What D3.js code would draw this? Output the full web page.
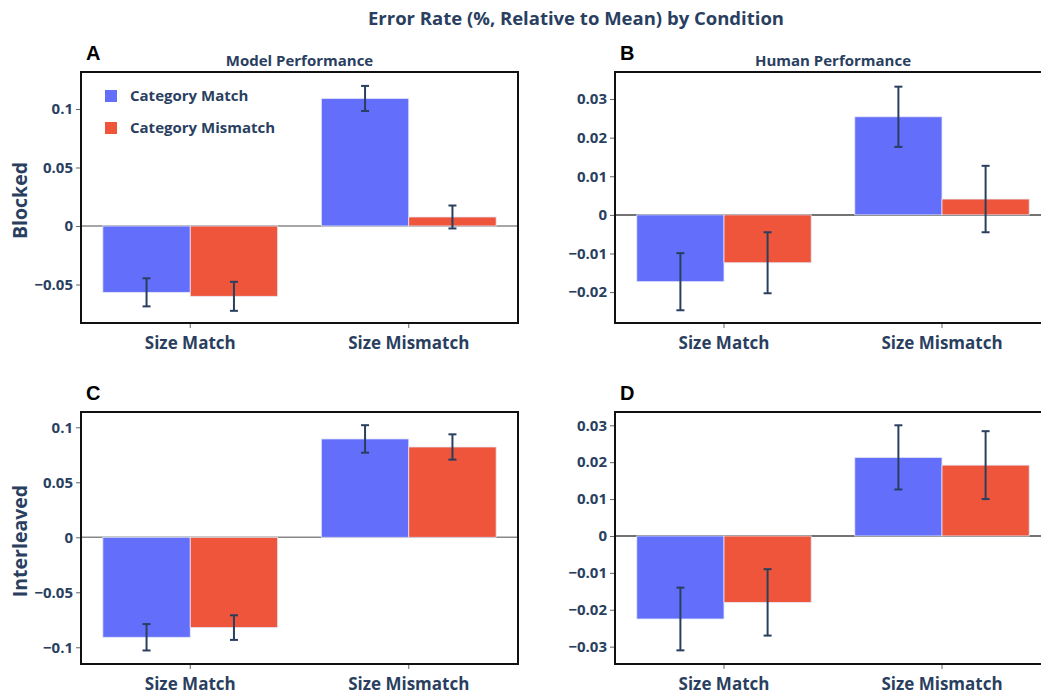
<!DOCTYPE html>
<html><head><meta charset="utf-8">
<script src="https://cdn.jsdelivr.net/npm/d3@7"></script>
<style>
html,body{margin:0;padding:0;background:#fff;overflow:hidden}
text{font-family:"Open Sans",sans-serif;font-weight:700}
</style></head>
<body><svg id="c" width="1041" height="694"></svg>
<script>
const categories = ["Size Match", "Size Mismatch"];
const seriesNames = ["Category Match", "Category Mismatch"];
const seriesColors = ["#636efa", "#ef553b"];

// Panel A: Model, Blocked
const modelBlockedMatch = [-0.0567, 0.109];
const modelBlockedMatchErr = [0.012, 0.0107];
const modelBlockedMismatch = [-0.0601, 0.0077];
const modelBlockedMismatchErr = [0.0124, 0.0098];
// Panel B: Human, Blocked
const humanBlockedMatch = [-0.0173, 0.0254];
const humanBlockedMatchErr = [0.0074, 0.0078];
const humanBlockedMismatch = [-0.0124, 0.0041];
const humanBlockedMismatchErr = [0.0079, 0.0086];
// Panel C: Model, Interleaved
const modelInterMatch = [-0.0909, 0.0894];
const modelInterMatchErr = [0.012, 0.0125];
const modelInterMismatch = [-0.0821, 0.0821];
const modelInterMismatchErr = [0.0112, 0.0115];
// Panel D: Human, Interleaved
const humanInterMatch = [-0.0225, 0.0213];
const humanInterMatchErr = [0.0085, 0.0087];
const humanInterMismatch = [-0.018, 0.0192];
const humanInterMismatchErr = [0.009, 0.0092];

const ticksA = [-0.05, 0, 0.05, 0.1];
const ticksB = [-0.02, -0.01, 0, 0.01, 0.02, 0.03];
const ticksC = [-0.1, -0.05, 0, 0.05, 0.1];
const ticksD = [-0.03, -0.02, -0.01, 0, 0.01, 0.02, 0.03];

const mainTitle = "Error Rate (%, Relative to Mean) by Condition";
const colTitles = ["Model Performance", "Human Performance"];
const rowTitles = ["Blocked", "Interleaved"];

const panels = [
  {letter:"A", x:81, y:72, w:437, h:251, dom:[-0.0829,0.1316], ticks:ticksA, zc:"#888",
   vals:[modelBlockedMatch, modelBlockedMismatch], errs:[modelBlockedMatchErr, modelBlockedMismatchErr],
   colTitle:colTitles[0], rowTitle:rowTitles[0], legend:true},
  {letter:"B", x:615, y:72, w:436, h:251, dom:[-0.028,0.037], ticks:ticksB, zc:"#444",
   vals:[humanBlockedMatch, humanBlockedMismatch], errs:[humanBlockedMatchErr, humanBlockedMismatchErr],
   colTitle:colTitles[1]},
  {letter:"C", x:81, y:412, w:437, h:252, dom:[-0.1152,0.1139], ticks:ticksC, zc:"#888",
   vals:[modelInterMatch, modelInterMismatch], errs:[modelInterMatchErr, modelInterMismatchErr],
   rowTitle:rowTitles[1]},
  {letter:"D", x:615, y:412, w:436, h:252, dom:[-0.0347,0.0336], ticks:ticksD, zc:"#444",
   vals:[humanInterMatch, humanInterMismatch], errs:[humanInterMatchErr, humanInterMismatchErr]}
];

const svg = d3.select("#c");
const txt = "#2a3f5f";
const fmt = v => v === 0 ? "0" : (v < 0 ? "\u2212" : "") + String(Math.abs(v));

svg.append("text").attr("x", 576).attr("y", 25).attr("text-anchor","middle")
  .attr("font-size", 18.5).attr("fill", txt).text(mainTitle);

panels.forEach(p => {
  const g = svg.append("g").attr("transform", `translate(${p.x},${p.y})`);
  const x0 = d3.scaleBand().domain(categories).range([0, p.w]);
  // bargap 0.2: group occupies 80% of each band
  const inner = d3.scaleBand().domain(seriesNames).range([x0.bandwidth()*0.1, x0.bandwidth()*0.9]);
  const y = d3.scaleLinear().domain(p.dom).range([p.h, 0]);

  const ya = d3.axisLeft(y).tickValues(p.ticks).tickFormat(fmt).tickSize(5).tickPadding(3);
  const yg = g.append("g").call(ya);
  yg.select(".domain").remove();
  yg.selectAll(".tick line").attr("stroke", "#666");
  yg.selectAll(".tick text").attr("font-size", 15).attr("fill", txt)
    .style("font-family", "'Open Sans',sans-serif").style("font-weight", 700);

  const xa = d3.axisBottom(x0).tickSize(5).tickPadding(9);
  const xg = g.append("g").attr("transform", `translate(0,${p.h})`).call(xa);
  xg.select(".domain").remove();
  xg.selectAll(".tick line").attr("stroke", "#666");
  xg.selectAll(".tick text").attr("font-size", 17).attr("fill", txt)
    .style("font-family", "'Open Sans',sans-serif").style("font-weight", 700);

  g.append("line").attr("x1", 0).attr("x2", p.w).attr("y1", y(0)).attr("y2", y(0))
    .attr("stroke", p.zc).attr("stroke-width", 1.5);

  seriesNames.forEach((s, si) => {
    categories.forEach((c, ci) => {
      const v = p.vals[si][ci];
      g.append("rect")
        .attr("x", x0(c) + inner(s)).attr("width", inner.bandwidth())
        .attr("y", y(Math.max(0, v))).attr("height", Math.abs(y(v) - y(0)))
        .attr("fill", seriesColors[si]).attr("stroke", "#e5e8f8").attr("stroke-width", 0.8);
    });
  });
  seriesNames.forEach((s, si) => {
    categories.forEach((c, ci) => {
      const v = p.vals[si][ci], e = p.errs[si][ci];
      const cx = x0(c) + inner(s) + inner.bandwidth()/2;
      const eg = g.append("g").attr("stroke", "#2a3f5f").attr("stroke-width", 2);
      eg.append("line").attr("x1", cx).attr("x2", cx).attr("y1", y(v+e)).attr("y2", y(v-e));
      eg.append("line").attr("x1", cx-4).attr("x2", cx+4).attr("y1", y(v+e)).attr("y2", y(v+e));
      eg.append("line").attr("x1", cx-4).attr("x2", cx+4).attr("y1", y(v-e)).attr("y2", y(v-e));
    });
  });

  g.append("rect").attr("x", 0).attr("y", 0).attr("width", p.w).attr("height", p.h)
    .attr("fill", "none").attr("stroke", "#111").attr("stroke-width", 2);

  svg.append("text").attr("x", p.x + 5).attr("y", p.y - 12)
    .style("font-family", "'Liberation Sans',Arial,sans-serif").attr("font-size", 20)
    .attr("fill", "#000").text(p.letter);

  if (p.colTitle) {
    svg.append("text").attr("x", p.x + p.w/2).attr("y", p.y - 6)
      .attr("text-anchor", "middle").attr("font-size", 15).attr("fill", txt).text(p.colTitle);
  }
  if (p.rowTitle) {
    svg.append("text").attr("transform", `translate(27,${p.y + p.h/2 + 3}) rotate(-90)`)
      .attr("text-anchor", "middle").attr("font-size", 19.5).attr("fill", txt).text(p.rowTitle);
  }
  if (p.legend) {
    seriesNames.forEach((s, si) => {
      const ly = 96 + si*32;
      svg.append("rect").attr("x", 105).attr("y", ly - 6).attr("width", 12).attr("height", 12)
        .attr("fill", seriesColors[si]);
      svg.append("text").attr("x", 130).attr("y", ly + 5).attr("font-size", 15)
        .attr("fill", txt).text(s);
    });
  }
});
</script></body></html>
